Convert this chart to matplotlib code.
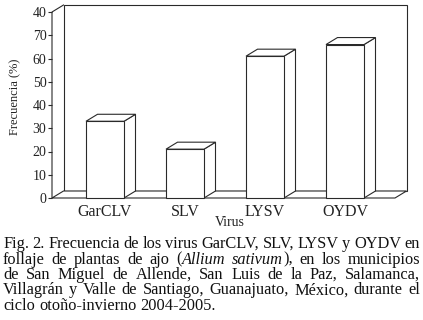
import matplotlib
matplotlib.use("Agg")
import matplotlib.pyplot as plt
from matplotlib.patches import Polygon

# data
categories = ["GarCLV", "SLV", "LYSV", "OYDV"]
frequencies = [33, 21, 61, 66]
ytick_values = [0, 10, 20, 30, 40, 50, 60, 70, 80]
ytick_labels = ["0", "10", "20", "30", "40", "50", "60", "70", "40"]

caption = [
    [[("Fig.", "normal")], [("2.", "normal")], [("Frecuencia", "normal")], [("de", "normal")],
     [("los", "normal")], [("virus", "normal")], [("GarCLV,", "normal")], [("SLV,", "normal")],
     [("LYSV", "normal")], [("y", "normal")], [("OYDV", "normal")], [("en", "normal")]],
    [[("follaje", "normal")], [("de", "normal")], [("plantas", "normal")], [("de", "normal")],
     [("ajo", "normal")], [("(", "normal"), ("Allium", "italic")], [("sativum", "italic"), ("),", "normal")],
     [("en", "normal")], [("los", "normal")], [("municipios", "normal")]],
    [[(w, "normal")] for w in "de San Miguel de Allende, San Luis de la Paz, Salamanca,".split()],
    [[(w, "normal")] for w in "Villagrán y Valle de Santiago, Guanajuato, México, durante el".split()],
    [[(w, "normal")] for w in "ciclo otoño-invierno 2004-2005.".split()],
]

SERIF = ["Liberation Serif", "DejaVu Serif"]
W, H = 423, 320

fig = plt.figure(figsize=(W / 100, H / 100), dpi=100)
fig.patch.set_facecolor("white")

# axes placed in pixels: front floor from x=52 to 395, y=0 at 198 px, y=80 at 12 px
ax = fig.add_axes([52 / W, (H - 198) / H, (395 - 52) / W, (198 - 12) / H])
xmin, xmax = -0.6625, 3.625
ymax = 80
ax.set_xlim(xmin, xmax)
ax.set_ylim(0, ymax)
ax.set_facecolor("none")
for s in ax.spines.values():
    s.set_visible(False)

dx = 11.5 / 80.0      # depth offset in data units (x)
dy = 7 / 2.325        # depth offset in data units (y)
half = 0.2375
lw = 0.8
ec = "#2a2a2a"


def poly(pts, z):
    ax.add_patch(Polygon(pts, closed=True, facecolor="white", edgecolor=ec,
                         linewidth=lw, joinstyle="miter", zorder=z, clip_on=False))


# back wall, floor and left wall
poly([(xmin + dx, dy), (xmax + dx, dy), (xmax + dx, ymax + dy), (xmin + dx, ymax + dy)], 1)
poly([(xmin, 0), (xmax, 0), (xmax + dx, dy), (xmin + dx, dy)], 1)
ax.plot([xmin, xmin, xmin + dx], [0, ymax, ymax + dy], color=ec, lw=lw, zorder=2,
        clip_on=False, solid_joinstyle="miter")

# 3D bars
for i, v in enumerate(frequencies):
    x0, x1 = i - half, i + half
    poly([(x1, 0), (x1 + dx, dy), (x1 + dx, v + dy), (x1, v)], 3)
    poly([(x0, v), (x1, v), (x1 + dx, v + dy), (x0 + dx, v + dy)], 3)
    poly([(x0, 0), (x1, 0), (x1, v), (x0, v)], 3)

ax.set_yticks(ytick_values, ytick_labels)
ax.set_xticks(range(len(categories)), categories)
ax.tick_params(axis="y", direction="out", length=3, width=lw, color=ec, pad=1,
               labelsize=10)
ax.tick_params(axis="x", length=0, pad=4, labelsize=11.5)
for lab in ax.get_xticklabels() + ax.get_yticklabels():
    lab.set_fontfamily(SERIF)
    lab.set_color("#222222")

ax.set_xlabel("Virus", fontsize=10, family=SERIF, color="#222222")
ax.xaxis.set_label_coords((230 - 52) / 343, (198 - 216) / 186)
ax.set_ylabel("Frecuencia (%)", fontsize=9, family=SERIF, color="#222222")
ax.yaxis.set_label_coords(-0.09, 0.543)

# justified caption
renderer = fig.canvas.get_renderer()
cap_size = 11.8
left_px, right_px = 3, 420
line_y = [243.5, 259.5, 275, 290.5, 306]


def seg_width(text, style):
    t = fig.text(0, 0, text, fontsize=cap_size, family=SERIF, style=style)
    w = t.get_window_extent(renderer).width
    t.remove()
    return w


space_w = seg_width("a b", "normal") - seg_width("ab", "normal")
for li, words in enumerate(caption):
    widths = [[seg_width(t, s) for t, s in w] for w in words]
    total = sum(sum(ws) for ws in widths)
    last = li == len(caption) - 1
    gap = space_w if last else (right_px - left_px - total) / (len(words) - 1)
    x = left_px
    for w, ws in zip(words, widths):
        for (t, s), sw in zip(w, ws):
            fig.text(x / W, (H - line_y[li]) / H, t, fontsize=cap_size, family=SERIF,
                     style=s, ha="left", va="center", color="#111111")
            x += sw
        x += gap

fig.savefig("out.png", dpi=100)
